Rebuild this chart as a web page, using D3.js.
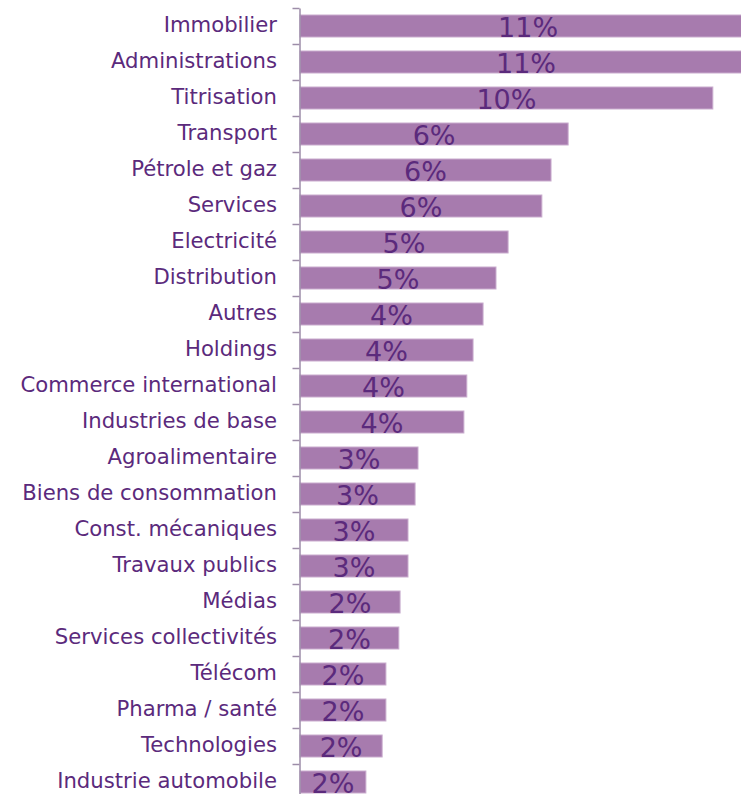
<!DOCTYPE html>
<html lang="fr">
<head>
    <meta charset="UTF-8">
    <script src="https://d3js.org/d3.v7.min.js"></script>
    <title>Répartition sectorielle</title>
    <style>
        body { margin: 0; background: #fff; }
        svg { display: block; }
    </style>
</head>
<body>
    <div id="chart"></div>
    <script>
        // data (share of total, %)
        const sectors = ["Immobilier", "Administrations", "Titrisation", "Transport", "Pétrole et gaz",
            "Services", "Electricité", "Distribution", "Autres", "Holdings", "Commerce international",
            "Industries de base", "Agroalimentaire", "Biens de consommation", "Const. mécaniques",
            "Travaux publics", "Médias", "Services collectivités", "Télécom", "Pharma / santé",
            "Technologies", "Industrie automobile"];
        const shares = [10.94, 10.84, 9.90, 6.43, 6.02, 5.80, 4.99, 4.70, 4.39, 4.15, 4.00,
            3.93, 2.83, 2.76, 2.59, 2.59, 2.40, 2.37, 2.06, 2.06, 1.97, 1.58];
        const shareLabels = ["11%", "11%", "10%", "6%", "6%", "6%", "5%", "5%", "4%", "4%", "4%",
            "4%", "3%", "3%", "3%", "3%", "2%", "2%", "2%", "2%", "2%", "2%"];

        const w = 741, h = 794;
        const x0 = 300, yTop = 8, yBottom = 800;

        const data = sectors.map((s, i) => ({ name: s, value: shares[i], label: shareLabels[i] }));

        const svg = d3.select("#chart").append("svg")
            .attr("width", w)
            .attr("height", h);

        const x = d3.scaleLinear()
            .domain([0, 11])
            .range([x0, x0 + 11 * 41.7]);

        const y = d3.scaleBand()
            .domain(sectors)
            .range([yTop, yBottom])
            .paddingInner(14 / 36)
            .paddingOuter(7 / 36);

        // bars
        svg.selectAll("rect.bar")
            .data(data)
            .enter()
            .append("rect")
            .attr("class", "bar")
            .attr("x", x(0))
            .attr("y", d => y(d.name))
            .attr("width", d => x(d.value) - x(0))
            .attr("height", y.bandwidth())
            .attr("fill", "#a77bae")
            .attr("stroke", "#c9acce")
            .attr("stroke-width", 1);

        // value labels
        svg.selectAll("text.val")
            .data(data)
            .enter()
            .append("text")
            .attr("class", "val")
            .attr("x", d => (x(0) + x(d.value)) / 2)
            .attr("y", d => y(d.name) + y.bandwidth() / 2 + 11)
            .attr("text-anchor", "middle")
            .style("font-family", "'DejaVu Sans', Verdana, sans-serif")
            .style("font-size", "27px")
            .attr("fill", "#5b2a7c")
            .text(d => d.label);

        // ticks between categories
        const edges = d3.scaleLinear().domain([0, sectors.length]).range([yTop, yBottom]);
        const tickAxis = d3.axisLeft(edges)
            .tickValues(d3.range(sectors.length + 1))
            .tickFormat("")
            .tickSizeInner(7)
            .tickSizeOuter(0);

        const gTicks = svg.append("g")
            .attr("transform", "translate(" + (x0 - 0.5) + ",0)")
            .call(tickAxis);
        gTicks.selectAll("path, line").attr("stroke", "#9d8da8").attr("stroke-width", 1.5);

        // category labels
        const catAxis = d3.axisLeft(y).tickSize(0).tickPadding(23);
        const gCat = svg.append("g")
            .attr("transform", "translate(" + x0 + ",0)")
            .call(catAxis);
        gCat.select(".domain").remove();
        gCat.selectAll("text")
            .attr("dy", "0.3em")
            .style("font-family", "'DejaVu Sans', Verdana, sans-serif")
            .style("font-size", "21.2px")
            .attr("fill", "#5b2a7c");
    </script>
</body>
</html>
